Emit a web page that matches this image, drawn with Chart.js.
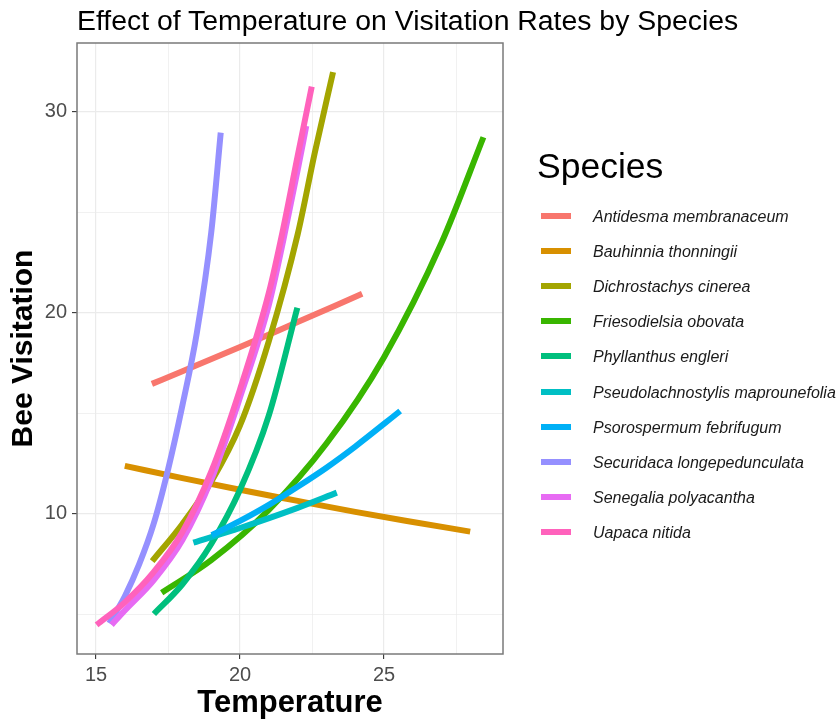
<!DOCTYPE html>
<html>
<head>
<meta charset="utf-8">
<title>Effect of Temperature on Visitation Rates by Species</title>
<script src="https://cdn.jsdelivr.net/npm/chart.js@4.4.1/dist/chart.umd.min.js"></script>
<style>
    html, body { margin: 0; padding: 0; background: #fff; }
    #wrap { position: relative; width: 838px; height: 719px; }
    #chart-title { position: absolute; left: 77px; top: 2px; font-family: "Liberation Sans", Arial, sans-serif; font-size: 28.4px; line-height: 36px; color: #000; white-space: nowrap; }
    #legend { position: absolute; left: 0; top: 0; font-family: "Liberation Sans", Arial, sans-serif; }
    .legend-title { position: absolute; left: 537px; top: 146px; font-size: 35.5px; line-height: 40px; color: #000; white-space: nowrap; }
    .legend-item { position: absolute; left: 540px; height: 20px; width: 300px; }
    .legend-key { position: absolute; left: 1px; top: 7px; width: 30px; height: 6px; }
    .legend-label { position: absolute; left: 53px; top: 1px; font-size: 16px; line-height: 20px; font-style: italic; color: #1a1a1a; white-space: nowrap; }
</style>
</head>
<body>
<div id="wrap">
    <canvas id="visitChart"></canvas>
    <div id="chart-title">Effect of Temperature on Visitation Rates by Species</div>
    <div id="legend"></div>
</div>
<script>
// species names and ggplot colours (legend order)
const speciesNames = [
    'Antidesma membranaceum',
    'Bauhinnia thonningii',
    'Dichrostachys cinerea',
    'Friesodielsia obovata',
    'Phyllanthus engleri',
    'Pseudolachnostylis maprounefolia',
    'Psorospermum febrifugum',
    'Securidaca longepedunculata',
    'Senegalia polyacantha',
    'Uapaca nitida'
];
const speciesColors = ['#F8766D', '#D89000', '#A3A500', '#39B600', '#00BF7D',
                       '#00BFC4', '#00B0F6', '#9590FF', '#E76BF3', '#FF62BC'];

// [temperature, bee visitation]
const antidesma = [[16.94, 16.47], [18, 17.1], [20, 18.3], [22, 19.55], [24.24, 20.95]];
const bauhinnia = [[16.0, 12.39], [18, 11.78], [20, 11.2], [22, 10.65], [24, 10.1], [26, 9.6], [27.99, 9.12]];
const dichrostachys = [[16.95, 7.65], [18, 9.5], [19, 11.6], [20, 14.4], [21, 18.6], [22, 23.9], [22.6, 28.0], [23.23, 31.98]];
const friesodielsia = [[17.28, 6.08], [19, 7.7], [21, 10.2], [23, 13.5], [25, 17.8], [27, 23.5], [28.45, 28.74]];
const phyllanthus = [[17.01, 5.02], [18, 6.5], [19, 8.5], [20, 11.2], [21, 14.9], [21.99, 20.26]];
const pseudolachnostylis = [[18.38, 8.57], [20, 9.3], [22, 10.3], [23.36, 11.06]];
const psorospermum = [[19.02, 8.94], [20, 9.65], [21, 10.45], [22, 11.35], [23, 12.3], [24, 13.35], [25.56, 15.12]];
const securidaca = [[15.46, 4.56], [16, 5.9], [16.5, 7.5], [17, 9.5], [17.5, 12.2], [18, 15.4], [18.5, 19.0], [19, 24.0], [19.33, 28.97]];
const senegalia = [[15.54, 4.48], [16, 5.2], [17, 6.7], [18, 8.7], [19, 11.7], [20, 15.8], [21, 20.4], [21.5, 23.6], [22, 27.1], [22.3, 29.3]];
const uapaca = [[15.02, 4.48], [16, 5.6], [17, 7.1], [18, 9.1], [19, 12.1], [20, 16.2], [21, 21.0], [21.5, 24.2], [22, 27.8], [22.49, 31.26]];

const seriesData = [antidesma, bauhinnia, dichrostachys, friesodielsia, phyllanthus,
                    pseudolachnostylis, psorospermum, securidaca, senegalia, uapaca];

// axis ticks: labelled ones and the minor grid in between
const xMajor = [15, 20, 25];
const xGrid = [15, 17.5, 20, 22.5, 25, 27.5];
const yMajor = [10, 20, 30];
const yGrid = [5, 10, 15, 20, 25, 30];

const FONT = '"Liberation Sans", Arial, sans-serif';

// ggplot style panel border drawn over the lines
const panelBorder = {
    id: 'panelBorder',
    afterDatasetsDraw(chart) {
        const { ctx, chartArea: a } = chart;
        ctx.save();
        ctx.strokeStyle = '#7a7a7a';
        ctx.lineWidth = 1.5;
        ctx.strokeRect(a.left, a.top, a.right - a.left, a.bottom - a.top);
        ctx.restore();
    }
};

function gridOpts(major) {
    return {
        color: '#ebebeb',
        lineWidth: ctx => major.includes(ctx.tick && ctx.tick.value) ? 1.2 : 0.7,
        tickLength: 5,
        tickColor: ctx => major.includes(ctx.tick && ctx.tick.value) ? '#333333' : 'rgba(0,0,0,0)',
        tickWidth: 1.1
    };
}

const datasets = seriesData.map((pts, i) => ({
    label: speciesNames[i],
    data: pts.map(p => ({ x: p[0], y: p[1] })),
    borderColor: speciesColors[i],
    backgroundColor: speciesColors[i],
    borderWidth: 6,
    borderCapStyle: 'butt',
    pointRadius: 0,
    cubicInterpolationMode: 'monotone',
    fill: false,
    order: seriesData.length - i   // last species on top, like ggplot
}));

new Chart(document.getElementById('visitChart'), {
    type: 'line',
    data: { datasets },
    options: {
        responsive: true,
        maintainAspectRatio: false,
        animation: false,
        layout: { padding: { left: 0, right: 335, top: 43, bottom: 0 } },
        plugins: {
            legend: { display: false },
            tooltip: { enabled: false },
            title: { display: false }
        },
        scales: {
            x: {
                type: 'linear',
                min: 14.34,
                max: 29.13,
                bounds: 'data',
                afterBuildTicks: axis => { axis.ticks = xGrid.map(v => ({ value: v })); },
                afterFit: scale => { scale.height = 65; },
                border: { display: false },
                grid: gridOpts(xMajor),
                ticks: {
                    autoSkip: false,
                    maxRotation: 0,
                    padding: 4,
                    color: '#4d4d4d',
                    font: { family: FONT, size: 20 },
                    callback: v => xMajor.includes(v) ? String(v) : ''
                },
                title: {
                    display: true,
                    text: 'Temperature',
                    color: '#000',
                    font: { family: FONT, size: 31, weight: 'bold', lineHeight: 1 },
                    padding: { top: 0, bottom: 0 }
                }
            },
            y: {
                type: 'linear',
                min: 3.03,
                max: 33.43,
                bounds: 'data',
                afterBuildTicks: axis => { axis.ticks = yGrid.map(v => ({ value: v })); },
                afterFit: scale => { scale.width = 77; },
                border: { display: false },
                grid: gridOpts(yMajor),
                ticks: {
                    autoSkip: false,
                    padding: 5,
                    color: '#4d4d4d',
                    font: { family: FONT, size: 20 },
                    callback: v => yMajor.includes(v) ? String(v) : ''
                },
                title: {
                    display: true,
                    text: 'Bee Visitation',
                    color: '#000',
                    font: { family: FONT, size: 30, weight: 'bold', lineHeight: 1.2 },
                    padding: { top: 6, bottom: 0 }
                }
            }
        }
    },
    plugins: [panelBorder]
});

// legend on the right
const legendBox = document.getElementById('legend');
legendBox.innerHTML = '<div class="legend-title">Species</div>';
speciesNames.forEach((name, i) => {
    const item = document.createElement('div');
    item.className = 'legend-item';
    item.style.top = (206 + i * 35.1) + 'px';
    item.innerHTML = `<div class="legend-key" style="background:${speciesColors[i]}"></div>` +
                     `<div class="legend-label">${name}</div>`;
    legendBox.appendChild(item);
});
</script>
</body>
</html>
